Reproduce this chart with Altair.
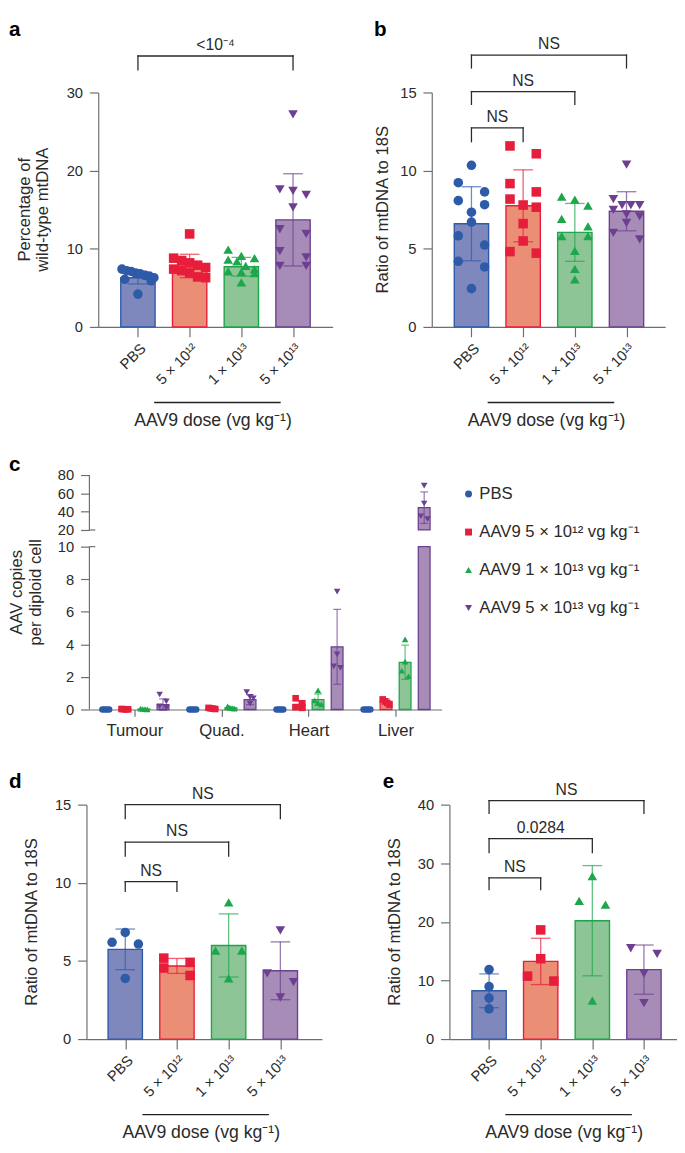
import json
import altair as alt
import pandas as pd

FONT = "Liberation Sans"
TXT = "#2a2a2a"
AXC = "#6e6e6e"

# ---------------- shared categories / styles ----------------
dose_ticks = ["PBS", "5 × 10¹²", "1 × 10¹³", "5 × 10¹³"]
dose_names = ["PBS", "AAV9 5 × 10¹² vg kg⁻¹", "AAV9 1 × 10¹³ vg kg⁻¹", "AAV9 5 × 10¹³ vg kg⁻¹"]
point_colors = ["#2D5BA8", "#E61E3C", "#1DA64C", "#6C3F90"]
bar_fills = ["#7F88BD", "#EB8E76", "#8DC597", "#A78CB8"]
shapes = ["circle", "square", "triangle-up", "triangle-down"]

# ---------------- panel a : percentage of wild-type mtDNA ----------------
a_pbs = [7.4, 7.2, 7.1, 6.9, 6.8, 6.6, 6.5, 6.3, 6.1, 5.9, 4.2]
a_5e12 = [11.9, 8.8, 8.5, 8.2, 7.9, 7.6, 7.4, 7.2, 6.9, 6.4, 6.3]
a_1e13 = [9.9, 9.1, 8.8, 8.6, 8.4, 7.8, 7.4, 7.1, 7.0, 6.9, 5.7]
a_5e13 = [27.2, 17.6, 17.4, 16.9, 15.3, 12.5, 11.9, 9.7, 8.9, 7.8, 7.8]
a_means = [6.3, 7.8, 7.7, 13.7]
a_sds = [0.8, 1.5, 1.2, 5.9]
a_cmp_from = [0]
a_cmp_to = [3]
a_cmp_level = [34.67]
a_cmp_drop = [32.9]
a_cmp_text = ["<10⁻⁴"]

# ---------------- panel b : ratio of mtDNA to 18S (tumour) ----------------
b_pbs = [10.34, 9.23, 8.64, 8.08, 7.82, 7.34, 6.71, 5.83, 5.24, 4.20, 3.84, 2.45]
b_5e12 = [11.58, 11.08, 9.17, 8.64, 8.18, 7.80, 7.66, 6.61, 5.50, 4.82, 4.72]
b_1e13 = [8.33, 8.14, 7.76, 6.92, 6.44, 5.81, 5.81, 4.87, 3.71, 3.04]
b_5e13 = [10.38, 8.18, 7.80, 7.80, 7.80, 7.49, 7.20, 7.07, 6.65, 6.02, 5.60]
b_means = [6.6, 7.75, 6.05, 7.4]
b_sds = [2.37, 2.3, 1.85, 1.25]
b_cmp_from = [0, 0, 0]
b_cmp_to = [1, 2, 3]
b_cmp_level = [12.73, 15.06, 17.39]
b_cmp_drop = [11.85, 14.24, 16.57]
b_cmp_text = ["NS", "NS", "NS"]

# ---------------- panel c : AAV copies per diploid cell ----------------
c_tissues = ["Tumour", "Quad.", "Heart", "Liver"]
c_pbs_mean = [0.0, 0.0, 0.0, 0.0]
c_5e12_mean = [0.02, 0.06, 0.3, 0.5]
c_1e13_mean = [0.03, 0.1, 0.6, 2.9]
c_5e13_mean = [0.3, 0.6, 3.85, 44.4]
c_pbs_sd = [0.0, 0.0, 0.0, 0.0]
c_5e12_sd = [0.01, 0.03, 0.25, 0.15]
c_1e13_sd = [0.02, 0.05, 0.35, 1.05]
c_5e13_sd = [0.35, 0.3, 2.3, 17.2]
c_pbs_pts = [[0, 0, 0, 0], [0, 0, 0, 0], [0, 0, 0, 0], [0, 0, 0, 0]]
c_5e12_pts = [[0.03, 0.02, 0.01, 0.01], [0.1, 0.07, 0.05, 0.03], [0.69, 0.38, 0.15, 0.1], [0.62, 0.5, 0.4, 0.3]]
c_1e13_pts = [[0.05, 0.03, 0.02, 0.01], [0.2, 0.12, 0.08, 0.05], [1.17, 0.56, 0.4, 0.32], [4.31, 2.94, 2.38, 2.04]]
c_5e13_pts = [[0.92, 0.5, 0.2, 0.1], [1.07, 0.77, 0.69, 0.36], [7.24, 3.39, 2.65, 2.55], [68.5, 48.9, 35.0, 32.0]]
c_axis_breaks_lo = [0, 20]
c_axis_breaks_hi = [10, 80]

# ---------------- panel d : ratio of mtDNA to 18S ----------------
d_pbs = [6.82, 6.19, 6.08, 3.88]
d_5e12 = [5.18, 4.91, 4.55, 4.07]
d_1e13 = [8.75, 5.66, 5.66, 3.88]
d_5e13 = [6.96, 4.20, 3.65, 2.66]
d_means = [5.74, 4.68, 5.99, 4.37]
d_sds = [1.3, 0.48, 2.02, 1.85]
d_cmp_from = [0, 0, 0]
d_cmp_to = [1, 2, 3]
d_cmp_level = [10.08, 12.6, 15.0]
d_cmp_drop = [9.45, 11.7, 14.1]
d_cmp_text = ["NS", "NS", "NS"]

# ---------------- panel e : ratio of mtDNA to 18S ----------------
e_pbs = [11.86, 8.95, 6.99, 5.15]
e_5e12 = [18.63, 13.71, 10.74, 9.9]
e_1e13 = [27.8, 23.6, 22.94, 6.55]
e_5e13 = [15.5, 14.55, 11.19, 6.15]
e_means = [8.24, 13.25, 20.2, 11.85]
e_sds = [2.88, 3.95, 9.4, 4.2]
e_cmp_from = [0, 0, 0]
e_cmp_to = [1, 2, 3]
e_cmp_level = [27.5, 34.2, 40.7]
e_cmp_drop = [25.5, 31.8, 38.5]
e_cmp_text = ["NS", "0.0284", "NS"]

# ---------------- helpers ----------------
color_scale = alt.Scale(domain=dose_names, range=point_colors)
fill_scale = alt.Scale(domain=dose_names, range=bar_fills)
shape_scale = alt.Scale(domain=dose_names, range=shapes)
one = pd.DataFrame({"k": [0]})


def spread(values, to_px, sym_px, m_small, m_big):
    """Side-by-side placement of points whose symbols would overlap (scatter dot plot)."""
    idx = sorted(range(len(values)), key=lambda i: -values[i])
    rows, cur = [], []
    for i in idx:
        if cur and abs(to_px(values[cur[0]]) - to_px(values[i])) < sym_px:
            cur.append(i)
        else:
            if cur:
                rows.append(cur)
            cur = [i]
    rows.append(cur)
    offs = [0.0] * len(values)
    for r in rows:
        k = len(r)
        if k > 1:
            m = m_small if k <= 4 else m_big
            for j, i in enumerate(r):
                offs[i] = -m + 2 * m * j / (k - 1)
    return offs


def txt(text, x, y, size=17, **kw):
    return alt.Chart(one).mark_text(text=text, font=FONT, fontSize=size, **kw).encode(
        x=alt.value(x), y=alt.value(y))


LETTER = dict(size=21, fontWeight="bold", align="left", baseline="alphabetic", color="#000000")


def std_panel(vals_list, means, sds, ymax, yvals, W, H, xlo, letter, lpos,
              tlines, txs, c_from, c_to, c_level, c_drop, c_text, shift=0):
    xpx = 55.0
    xs = alt.Scale(domain=[xlo, xlo + W / xpx], range=[-shift, W - shift], nice=False, zero=False)
    ys = alt.Scale(domain=[0, ymax], nice=False, zero=True)
    rows = []
    for g, vals in enumerate(vals_list):
        offs = spread(vals, lambda v: v * H / ymax, 10, 14, 17)
        for v, o in zip(vals, offs):
            rows.append({"g": g, "x": g + o / xpx, "v": v, "dose": dose_names[g]})
    pdf = pd.DataFrame(rows)
    sdf = pd.DataFrame({"g": list(range(4)), "mean": means, "sd": sds, "dose": dose_names})
    bdf = pd.DataFrame({"g1": c_from, "g2": c_to, "y": c_level, "yd": c_drop, "label": c_text})

    xaxis = alt.Axis(values=[0, 1, 2, 3], labelExpr=json.dumps(dose_ticks, ensure_ascii=False) + "[datum.value]",
                     labelAngle=-45, labelAlign="right", labelBaseline="top", tickSize=10,
                     labelPadding=4, title=None, labelFontSize=15, grid=False)
    yaxis = alt.Axis(values=yvals, tickSize=9, labelPadding=7, title=None, labelFontSize=15, grid=False,
                     offset=shift)

    def X(f):
        return alt.X(f, scale=xs, axis=xaxis)

    def Y(f):
        return alt.Y(f, scale=ys, axis=yaxis)

    col = alt.Color("dose:N", scale=color_scale, legend=None)
    bars = alt.Chart(sdf).mark_bar(orient="vertical", size=35, strokeWidth=1.4).encode(
        x=X("g:Q"), y=Y("mean:Q"),
        fill=alt.Fill("dose:N", scale=fill_scale, legend=None),
        stroke=alt.Stroke("dose:N", scale=color_scale, legend=None),
    )
    err = alt.Chart(sdf).transform_calculate(lo="datum.mean - datum.sd", hi="datum.mean + datum.sd").mark_rule(
        strokeWidth=1.3, opacity=0.7).encode(x=X("g:Q"), y=Y("lo:Q"), y2="hi:Q", color=col)
    caps = alt.Chart(sdf).transform_calculate(lo="datum.mean - datum.sd", hi="datum.mean + datum.sd").transform_fold(
        ["lo", "hi"], as_=["k", "ev"]).mark_tick(orient="horizontal", size=20, thickness=1.3, opacity=0.7).encode(
        x=X("g:Q"), y=Y("ev:Q"), color=col)
    pts = alt.Chart(pdf).mark_point(filled=True, size=95, opacity=1).encode(
        x=X("x:Q"), y=Y("v:Q"), color=col,
        shape=alt.Shape("dose:N", scale=shape_scale, legend=None))
    hl = alt.Chart(bdf).mark_rule(color=TXT, strokeWidth=1.3, strokeCap="square").encode(
        x=X("g1:Q"), x2="g2:Q", y=Y("y:Q"))
    ld = alt.Chart(bdf).mark_rule(color=TXT, strokeWidth=1.3, strokeCap="square").encode(
        x=X("g1:Q"), y=Y("y:Q"), y2="yd:Q")
    rd = alt.Chart(bdf).mark_rule(color=TXT, strokeWidth=1.3, strokeCap="square").encode(
        x=X("g2:Q"), y=Y("y:Q"), y2="yd:Q")
    bl = alt.Chart(bdf).transform_calculate(xm="(datum.g1 + datum.g2) / 2").mark_text(
        baseline="bottom", dy=-3, fontSize=16, font=FONT, color=TXT).encode(
        x=X("xm:Q"), y=Y("y:Q"), text="label:N")

    layers = [bars, err, caps, pts, hl, ld, rd, bl, txt(letter, lpos[0] - shift, lpos[1], **LETTER)]
    for line, tx in zip(tlines, txs):
        layers.append(txt(line, tx - shift, H / 2, angle=270, align="center", baseline="middle", color=TXT))
    layers.append(alt.Chart(one).mark_rule(color="#222222", strokeWidth=1.4).encode(
        x=alt.value(57 - shift), x2=alt.value(186 - shift), y=alt.value(H + 77)))
    layers.append(txt("AAV9 dose (vg kg⁻¹)", 117 - shift, H + 96, size=18, align="center", baseline="middle",
                      color=TXT))
    return alt.layer(*layers).properties(width=W - shift, height=H)


pa = std_panel([a_pbs, a_5e12, a_1e13, a_5e13], a_means, a_sds, 30, [0, 10, 20, 30], 239, 239, -0.673,
               "a", (-91, -58), ["Percentage of", "wild-type mtDNA"], [-75, -56],
               a_cmp_from, a_cmp_to, a_cmp_level, a_cmp_drop, a_cmp_text)
pb = std_panel([b_pbs, b_5e12, b_1e13, b_5e13], b_means, b_sds, 15, [0, 5, 10, 15], 238, 239, -0.673,
               "b", (-59, -58), ["Ratio of mtDNA to 18S"], [-50],
               b_cmp_from, b_cmp_to, b_cmp_level, b_cmp_drop, b_cmp_text)
pd_ = std_panel([d_pbs, d_5e12, d_1e13, d_5e13], d_means, d_sds, 15, [0, 5, 10, 15], 240, 239, -0.655,
                "d", (-79, -16.5), ["Ratio of mtDNA to 18S"], [-55],
                d_cmp_from, d_cmp_to, d_cmp_level, d_cmp_drop, d_cmp_text, shift=12)
pe = std_panel([e_pbs, e_5e12, e_1e13, e_5e13], e_means, e_sds, 40, [0, 10, 20, 30, 40], 232, 239, -0.673,
               "e", (-68, -16.5), ["Ratio of mtDNA to 18S"], [-55],
               e_cmp_from, e_cmp_to, e_cmp_level, e_cmp_drop, e_cmp_text)

# ---------------- panel c (broken y axis) ----------------
CW, CH, CS = 359, 239, 9
cxpx = 91.3
cxs = alt.Scale(domain=[-0.46, -0.46 + CW / cxpx], range=[-CS, CW - CS], nice=False, zero=False)
c_ydom = [0, 10, 20, 80]
c_yrng = [CH, 73, 56, 0]
cys = alt.Scale(domain=c_ydom, range=c_yrng, nice=False, zero=False)


def c_px(v):
    if v <= 10:
        return v * (CH - 73) / 10.0
    return (CH - 56) + (v - 20) * 56 / 60.0


c_mean_sets = [c_pbs_mean, c_5e12_mean, c_1e13_mean, c_5e13_mean]
c_sd_sets = [c_pbs_sd, c_5e12_sd, c_1e13_sd, c_5e13_sd]
c_pt_sets = [c_pbs_pts, c_5e12_pts, c_1e13_pts, c_5e13_pts]
crow, cprow = [], []
for d in range(4):
    for t in range(4):
        xc = t + (d - 1.5) * 20 / cxpx
        crow.append({"t": t, "d": d, "xc": xc, "mean": c_mean_sets[d][t], "sd": c_sd_sets[d][t],
                     "dose": dose_names[d]})
        vals = c_pt_sets[d][t]
        offs = spread(vals, c_px, 7, 3.5, 4.5)
        for v, o in zip(vals, offs):
            cprow.append({"x": xc + o / cxpx, "v": v, "dose": dose_names[d]})
csum = pd.DataFrame(crow)
cpts = pd.DataFrame(cprow)

cxaxis = alt.Axis(values=[0, 1, 2, 3], labelExpr=json.dumps(c_tissues) + "[datum.value]", labelAngle=0,
                  tickSize=7, labelPadding=7, title=None, labelFontSize=17, grid=False)
cyaxis = alt.Axis(values=[0, 2, 4, 6, 8, 10, 20, 40, 60, 80], domain=False, tickSize=9, labelPadding=7,
                  title=None, labelFontSize=15, grid=False, offset=CS)


def CX(f):
    return alt.X(f, scale=cxs, axis=cxaxis)


def CY(f):
    return alt.Y(f, scale=cys, axis=cyaxis)


ccol = alt.Color("dose:N", scale=color_scale, legend=None)

c_bar_lo = alt.Chart(csum).transform_calculate(top="min(datum.mean, 10)").mark_bar(
    orient="vertical", size=12, strokeWidth=1.3).encode(
    x=CX("xc:Q"), y=CY("top:Q"),
    fill=alt.Fill("dose:N", scale=fill_scale, legend=None),
    stroke=alt.Stroke("dose:N", scale=color_scale, legend=None))
c_bar_hi = alt.Chart(csum).transform_filter("datum.mean > 20").transform_calculate(base="20").mark_bar(
    orient="vertical", size=12, strokeWidth=1.3).encode(
    x=CX("xc:Q"), y=CY("base:Q"), y2="mean:Q",
    fill=alt.Fill("dose:N", scale=fill_scale, legend=None),
    stroke=alt.Stroke("dose:N", scale=color_scale, legend=None))
c_err = alt.Chart(csum).transform_filter("datum.sd > 0").transform_calculate(
    lo="datum.mean - datum.sd", hi="datum.mean + datum.sd").mark_rule(strokeWidth=1.2, opacity=0.7).encode(
    x=CX("xc:Q"), y=CY("lo:Q"), y2="hi:Q", color=ccol)
c_caps = alt.Chart(csum).transform_filter("datum.sd > 0").transform_calculate(
    lo="datum.mean - datum.sd", hi="datum.mean + datum.sd").transform_fold(["lo", "hi"], as_=["k", "ev"]).mark_tick(
    orient="horizontal", size=8, thickness=1.2, opacity=0.7).encode(
    x=CX("xc:Q"), y=CY("ev:Q"), color=ccol)
c_pts = alt.Chart(cpts).mark_point(filled=True, size=45, opacity=1).encode(
    x=CX("x:Q"), y=CY("v:Q"), color=ccol,
    shape=alt.Shape("dose:N", scale=shape_scale, legend=None))
segdf = pd.DataFrame({"lo": c_axis_breaks_lo, "hi": c_axis_breaks_hi})
c_dom = alt.Chart(segdf).mark_rule(color=AXC, strokeWidth=1.2).encode(
    x=alt.value(-CS), y=CY("lo:Q"), y2="hi:Q")
brk = pd.DataFrame({"y": [c_axis_breaks_hi[0], c_axis_breaks_lo[1]]})
c_brk = alt.Chart(brk).mark_rule(color=AXC, strokeWidth=1.2).encode(
    x=alt.value(-CS), x2=alt.value(-CS + 6), y=CY("y:Q"))

pc = alt.layer(
    c_bar_lo, c_bar_hi, c_err, c_caps, c_pts, c_dom, c_brk,
    txt("c", -82 - CS, -4, **LETTER),
    txt("AAV copies", -74 - CS, CH / 2, angle=270, align="center", baseline="middle", color=TXT),
    txt("per diploid cell", -54 - CS, CH / 2, angle=270, align="center", baseline="middle", color=TXT),
).properties(width=CW - CS, height=CH)

# legend of panel c drawn from the dose categories through a point scale
legdf = pd.DataFrame({"dose": dose_names})
leg_y = alt.Scale(domain=dose_names, padding=0.5)
leg_sym = alt.Chart(legdf).mark_point(filled=True, size=50, opacity=1).encode(
    x=alt.value(0), y=alt.Y("dose:N", scale=leg_y, axis=None, sort=dose_names),
    color=alt.Color("dose:N", scale=color_scale, legend=None),
    shape=alt.Shape("dose:N", scale=shape_scale, legend=None))
leg_txt = alt.Chart(legdf).mark_text(align="left", baseline="middle", font=FONT, fontSize=17, color=TXT).encode(
    x=alt.value(11), y=alt.Y("dose:N", scale=leg_y, axis=None, sort=dose_names), text="dose:N")
leg = alt.layer(leg_sym, leg_txt).properties(width=110, height=155)

RES = dict(color="independent", shape="independent", fill="independent", stroke="independent")
row1 = alt.hconcat(pa, pb, spacing=42).resolve_scale(**RES)
row2 = alt.hconcat(pc, leg, spacing=14.5).resolve_scale(**RES)
row3 = alt.hconcat(pd_, pe, spacing=50).resolve_scale(**RES)
inner = alt.vconcat(row2, row3, spacing=33).resolve_scale(**RES)
chart = alt.vconcat(row1, inner, spacing=25).resolve_scale(**RES).properties(
    padding=0, background="white"
).configure_view(stroke=None).configure_axis(
    labelFont=FONT, labelColor=TXT, domainColor=AXC, tickColor=AXC, domainWidth=1.2, tickWidth=1.2
)

chart.save("out.html", embed_options={"renderer": "svg", "actions": False})
